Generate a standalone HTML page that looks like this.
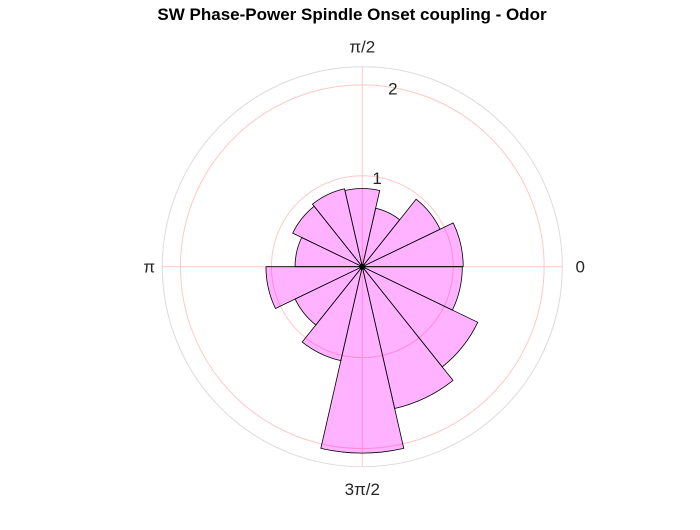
<!DOCTYPE html>
<html><head><meta charset="utf-8"><style>
body{margin:0;background:#fff;}
svg text{font-family:"Liberation Sans",Arial,sans-serif;}
</style></head><body>
<svg id="chart" width="700" height="525" viewBox="0 0 700 525" xmlns="http://www.w3.org/2000/svg">
<rect width="700" height="525" fill="#fff"/>
<text x="352" y="20" text-anchor="middle" font-size="17" font-weight="bold" fill="#000">SW Phase-Power Spindle Onset coupling - Odor</text>
<g id="grid"></g>
<g id="bars"></g>
<g id="labels"></g>
</svg>
<script>
const binValues = [1.11, 0.95, 0.66, 0.86, 0.88, 0.85, 0.74, 1.06, 0.82, 1.06, 2.05, 1.60, 1.41, 1.10];
const rTicks = [1, 2];
const rTickLabels = ["1", "2"];
const thetaTickLabels = ["0", "\u03c0/2", "\u03c0", "3\u03c0/2"];
const rMax = 2.2;

const cx = 362.3, cy = 266.7, R = 200;
const NS = "http://www.w3.org/2000/svg";
function rs(v){ return v / rMax * R; }
function pt(r, a){ return [cx + rs(r)*Math.cos(a), cy - rs(r)*Math.sin(a)]; }
function mk(tag, attrs, parent){ const e=document.createElementNS(NS,tag); for(const k in attrs) e.setAttribute(k, attrs[k]); parent.appendChild(e); return e; }

const grid = document.getElementById('grid');
const outer = mk('circle',{cx:cx,cy:cy,r:R,fill:'none',stroke:'#dcdcdc','stroke-width':1},grid);


rTicks.forEach((t,i)=>{
  const c = mk('circle',{cx:cx,cy:cy,r:rs(t),fill:'none',stroke:'#ffc8c8','stroke-width':1},grid);
  
  
});
for(let k=0;k<4;k++){
  const a=k*Math.PI/2; const p=pt(rMax,a);
  const l = mk('line',{x1:cx,y1:cy,x2:p[0],y2:p[1],stroke:'#ffc8c8','stroke-width':1},grid);
  
  
}

const bars = document.getElementById('bars');
const n = binValues.length, w = 2*Math.PI/n;
binValues.forEach((v,i)=>{
  const a0=i*w, a1=(i+1)*w;
  const p0=pt(v,a0), p1=pt(v,a1);
  const d=`M${cx},${cy} L${p0[0]},${p0[1]} A${rs(v)},${rs(v)} 0 0 0 ${p1[0]},${p1[1]} Z`;
  const b = mk('path',{d:d,fill:'#ff00ff','fill-opacity':0.3,stroke:'#000','stroke-width':0.8,'stroke-linejoin':'round'},bars);
  
  
});
const dot = mk('circle',{cx:cx,cy:cy,r:3,fill:'#000'},bars);



const labels = document.getElementById('labels');
rTicks.forEach((t,i)=>{
  const p=pt(t, 80*Math.PI/180);
  const tx = mk('text',{x:p[0]-1,y:p[1]+7,'font-size':17,fill:'#262626','text-anchor':'middle'},labels);
  tx.textContent = rTickLabels[i];
  
  
});
thetaTickLabels.forEach((s,k)=>{
  const a=k*Math.PI/2; const p=pt(rMax+0.2,a);
  let x=p[0], y=p[1]+6, anchor='middle';
  if(k===0){x+=-5; anchor='start';}
  if(k===2){x+=11; anchor='end';}
  if(k===1){y-=2;}
  if(k===3){y+=4;}
  const tx = mk('text',{x:x,y:y,'font-size':17,fill:'#262626','text-anchor':anchor},labels);
  tx.textContent = s;
  
  
});
</script>
</body></html>
